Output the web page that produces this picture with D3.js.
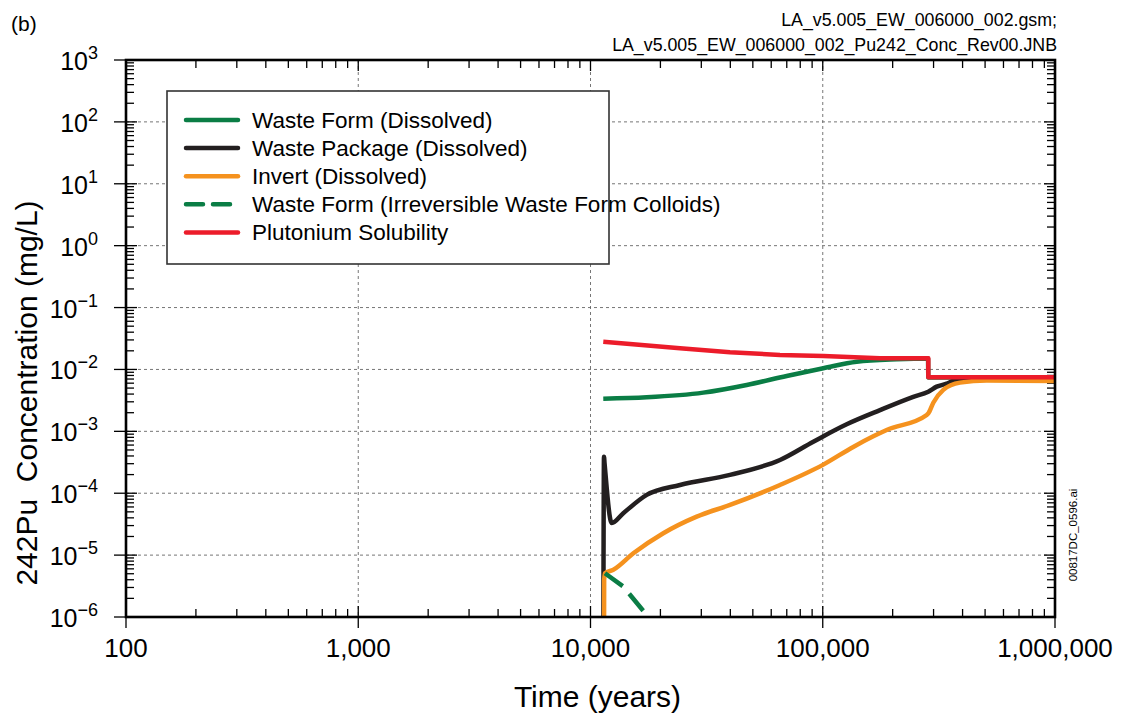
<!DOCTYPE html>
<html>
<head>
<meta charset="utf-8">
<script src="https://cdn.jsdelivr.net/npm/d3@7/dist/d3.min.js"></script>
<style>
  html, body { margin: 0; padding: 0; background: #fff; }
  svg { display: block; font-family: "Liberation Sans", Arial, sans-serif; }
</style>
</head>
<body>
<svg id="chart" width="1121" height="719"></svg>
<script>
// ---------------- Data ----------------
const xMajorTicks = [100, 1000, 10000, 100000, 1000000];
const xTickLabels = ["100", "1,000", "10,000", "100,000", "1,000,000"];
const yMajorExponents = [3, 2, 1, 0, -1, -2, -3, -4, -5, -6];

// Waste Form (Dissolved)
const wfTime = [11350, 17460, 30600, 47050, 69930, 100550, 140000, 208200, 284000, 284800, 1000000];
const wfConc = [3.37e-3, 3.55e-3, 4.22e-3, 5.62e-3, 7.85e-3, 1.045e-2, 1.336e-2, 1.46e-2, 1.5e-2, 7.4e-3, 7.4e-3];

// Waste Package (Dissolved)
const wpTime = [11350, 11430, 11500, 12340, 13840, 17460, 24290, 39870, 65450, 91060, 126800, 176400, 245400, 284800, 309400, 341700, 364800, 430500, 600000, 1000000];
const wpConc = [1e-7, 3.9e-4, 3.0e-4, 3.3e-5, 4.75e-5, 9.4e-5, 1.36e-4, 1.98e-4, 3.45e-4, 6.8e-4, 1.3e-3, 2.2e-3, 3.6e-3, 4.38e-3, 5.27e-3, 5.9e-3, 6.5e-3, 6.95e-3, 7.0e-3, 7.0e-3];

// Invert (Dissolved)
const invTime = [11430, 11450, 11540, 12540, 15290, 20580, 28660, 39870, 65450, 100550, 135300, 165100, 188500, 280300, 284800, 299200, 330400, 389900, 508000, 1000000];
const invConc = [1e-7, 4.0e-6, 5.1e-6, 5.8e-6, 1.07e-5, 2.26e-5, 4.19e-5, 6.47e-5, 1.36e-4, 2.9e-4, 5.6e-4, 8.3e-4, 1.05e-3, 1.84e-3, 1.95e-3, 2.9e-3, 4.67e-3, 6.12e-3, 6.6e-3, 6.5e-3];

// Waste Form (Irreversible Waste Form Colloids)
const colTime = [11540, 13840, 17740, 19000];
const colConc = [5.1e-6, 3.1e-6, 1.0e-6, 0.75e-6];

// Plutonium Solubility
const solTime = [11350, 14790, 24290, 39870, 65450, 100550, 176400, 284800, 284800, 1000000];
const solConc = [0.0281, 0.0258, 0.0220, 0.0190, 0.01714, 0.01652, 0.0152, 0.0152, 0.0075, 0.0075];

const seriesNames = [
  "Waste Form (Dissolved)",
  "Waste Package (Dissolved)",
  "Invert (Dissolved)",
  "Waste Form (Irreversible Waste Form Colloids)",
  "Plutonium Solubility"
];
const seriesColors = ["#0a7d45", "#231f20", "#f5921e", "#0a7d45", "#ec1c2a"];
const seriesDash = [null, null, null, "22,10", null];

// ---------------- Layout ----------------
const svg = d3.select("#chart");
const L = 126, R = 1055, T = 60, B = 617;

const x = d3.scaleLog().domain([100, 1e6]).range([L, R]);
const y = d3.scaleLog().domain([1e-6, 1e3]).range([B, T]);

svg.append("defs").append("clipPath").attr("id", "clip")
  .append("rect").attr("x", L).attr("y", T).attr("width", R - L).attr("height", B - T);

// Gridlines
const grid = svg.append("g").attr("stroke", "#666").attr("stroke-width", 0.9).attr("stroke-dasharray", "3,3");
xMajorTicks.slice(1, -1).forEach(v => {
  grid.append("line").attr("x1", x(v)).attr("x2", x(v)).attr("y1", T).attr("y2", B);
});
yMajorExponents.slice(1, -1).forEach(e => {
  const v = Math.pow(10, e);
  grid.append("line").attr("x1", L).attr("x2", R).attr("y1", y(v)).attr("y2", y(v));
});

// Minor tick values
const xMinor = [];
for (let d = 100; d < 1e6; d *= 10) for (let k = 2; k <= 9; k++) xMinor.push(d * k);
const yMinor = [];
for (let e = -6; e < 3; e++) for (let k = 2; k <= 9; k++) yMinor.push(k * Math.pow(10, e));

const ticks = svg.append("g").attr("stroke", "#000").attr("stroke-width", 1.3);
xMinor.forEach(v => {
  ticks.append("line").attr("x1", x(v)).attr("x2", x(v)).attr("y1", B).attr("y2", B - 8);
  ticks.append("line").attr("x1", x(v)).attr("x2", x(v)).attr("y1", T).attr("y2", T + 8);
});
yMinor.forEach(v => {
  ticks.append("line").attr("x1", L).attr("x2", L + 8).attr("y1", y(v)).attr("y2", y(v));
  ticks.append("line").attr("x1", R).attr("x2", R - 8).attr("y1", y(v)).attr("y2", y(v));
});
xMajorTicks.forEach(v => {
  ticks.append("line").attr("x1", x(v)).attr("x2", x(v)).attr("y1", B + 11).attr("y2", B - 11);
  ticks.append("line").attr("x1", x(v)).attr("x2", x(v)).attr("y1", T).attr("y2", T + 11);
});
yMajorExponents.forEach(e => {
  const v = Math.pow(10, e);
  ticks.append("line").attr("x1", L - 12).attr("x2", L + 11).attr("y1", y(v)).attr("y2", y(v));
  ticks.append("line").attr("x1", R).attr("x2", R - 11).attr("y1", y(v)).attr("y2", y(v));
});

// Series lines
const smooth = d3.line().x(d => x(d[0])).y(d => y(d[1])).curve(d3.curveMonotoneX);
const straight = d3.line().x(d => x(d[0])).y(d => y(d[1]));
const plot = svg.append("g").attr("clip-path", "url(#clip)");
const seriesData = [
  d3.zip(wfTime, wfConc),
  d3.zip(wpTime, wpConc),
  d3.zip(invTime, invConc),
  d3.zip(colTime, colConc),
  d3.zip(solTime, solConc)
];
seriesData.forEach((data, i) => {
  const gen = (i === 4 || i === 3) ? straight : smooth;
  plot.append("path")
    .attr("d", gen(data))
    .attr("fill", "none")
    .attr("stroke", seriesColors[i])
    .attr("stroke-width", 4.5)
    .attr("stroke-linejoin", "round")
    .attr("stroke-dasharray", seriesDash[i]);
});

// Frame
svg.append("rect").attr("x", L).attr("y", T).attr("width", R - L).attr("height", B - T)
  .attr("fill", "none").attr("stroke", "#000").attr("stroke-width", 2.6);

// X tick labels
svg.append("g").selectAll("text").data(xMajorTicks).join("text")
  .attr("x", d => x(d)).attr("y", 657)
  .attr("text-anchor", "middle").attr("font-size", 26).attr("fill", "#000")
  .text((d, i) => xTickLabels[i]);

// Y tick labels 10^n
const yl = svg.append("g");
yMajorExponents.forEach(e => {
  const t = yl.append("text").attr("x", 98).attr("y", y(Math.pow(10, e)) + 10)
    .attr("text-anchor", "end").attr("fill", "#000");
  t.append("tspan").attr("font-size", 25).text("10");
  t.append("tspan").attr("font-size", 18).attr("dy", -11).text(e < 0 ? "\u2212" + Math.abs(e) : String(e));
});

// Axis titles
svg.append("text").attr("x", (L + R) / 2 + 7).attr("y", 707).attr("text-anchor", "middle")
  .attr("font-size", 30).text("Time (years)");
svg.append("text").attr("transform", "translate(37," + 393 + ") rotate(-90)")
  .attr("text-anchor", "middle").attr("font-size", 30).attr("xml:space", "preserve")
  .text("242Pu  Concentration (mg/L)");

// Annotations
svg.append("text").attr("x", 11).attr("y", 31).attr("font-size", 21).text("(b)");
svg.append("text").attr("x", 1057).attr("y", 26).attr("text-anchor", "end").attr("font-size", 17.8)
  .text("LA_v5.005_EW_006000_002.gsm;");
svg.append("text").attr("x", 1057).attr("y", 51).attr("text-anchor", "end").attr("font-size", 17.8)
  .text("LA_v5.005_EW_006000_002_Pu242_Conc_Rev00.JNB");
svg.append("text").attr("transform", "translate(1077,535) rotate(-90)").attr("text-anchor", "middle")
  .attr("font-size", 11.5).text("00817DC_0596.ai");

// Legend
const lg = svg.append("g");
lg.append("rect").attr("x", 167).attr("y", 91).attr("width", 442).attr("height", 173)
  .attr("fill", "#fff").attr("stroke", "#333").attr("stroke-width", 1.6);
seriesNames.forEach((name, i) => {
  const yy = 120 + i * 28.1;
  lg.append("line").attr("x1", 186).attr("x2", 238).attr("y1", yy).attr("y2", yy)
    .attr("stroke", seriesColors[i]).attr("stroke-width", 4.5)
    .attr("stroke-linecap", "round")
    .attr("stroke-dasharray", seriesDash[i] ? "17,10" : null);
  lg.append("text").attr("x", 252).attr("y", yy + 8).attr("font-size", 22.5).text(name);
});
</script>
</body>
</html>
